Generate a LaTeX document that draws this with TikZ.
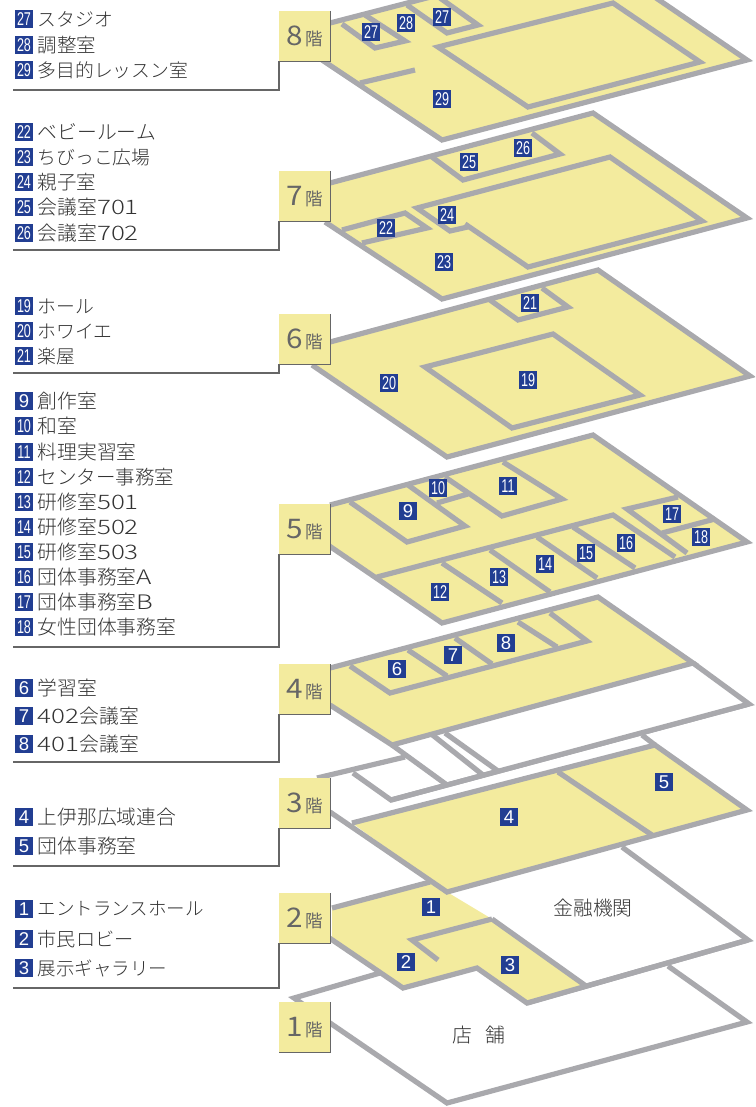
\documentclass[tikz,border=0pt]{standalone}
\usepackage{fontspec}
\usepackage{graphicx}
\setmainfont{Liberation Sans}
\newfontfamily\jpf[UprightFont={* Light}]{Noto Sans CJK JP}
\newfontfamily\jpr{Noto Sans CJK JP}
\newfontfamily\latf{Liberation Sans}
\definecolor{wallc}{HTML}{A9A9AD}
\definecolor{yel}{HTML}{F3EB9E}
\definecolor{navy}{HTML}{223E92}
\definecolor{lead}{HTML}{666666}
\definecolor{txt}{HTML}{333333}
\newcommand{\bn}[1]{\fontsize{18.5}{18.5}\selectfont\latf\ifnum#1>9 \scalebox{0.68}[1]{#1}\else #1\fi}
\newcommand{\dg}[1]{{\jpf\fontsize{20}{20}\selectfont\scalebox{1.3}[1]{#1}}}
\newcommand{\kz}{\fontsize{19.8}{20}\selectfont}
\newcommand{\fl}[1]{\scalebox{1.1}[1]{\jpr\fontsize{27}{27}\selectfont #1}\hspace{2.5pt}{\jpr\fontsize{17.5}{17.5}\selectfont 階}}
\tikzset{
 wall/.style={draw=wallc,line width=5.2pt,line join=miter,miter limit=10},
 yfloor/.style={wall,fill=yel},
 wfloor/.style={wall,fill=white},
 badge/.style={fill=navy,text=white,minimum width=18pt,minimum height=18pt,inner sep=0pt},
 lab/.style={anchor=west,inner sep=0pt,text=txt,font=\jpf\fontsize{18.8}{19}\selectfont},
 plantext/.style={inner sep=0pt,text=txt,font=\jpf\fontsize{19.8}{20}\selectfont},
 floorbox/.style={anchor=north west,fill=yel,minimum width=51pt,minimum height=50pt,inner sep=0pt,text=lead},
 leader/.style={draw=lead,line width=1.6pt,line join=miter},
}
\newcommand{\leg}[4]{\node[badge] (l#1) at (24,#2) {\bn{#3}}; \node[lab] (t#1) at (37.5,#2) {#4};}
\newcommand{\pb}[3]{\node[badge] (p#1) at (#2) {\bn{#3}};}
\begin{document}
\begin{tikzpicture}[x=1pt,y=-1pt]
\useasboundingbox (0,0) rectangle (755,1107);
\clip (0,0) rectangle (755,1107);
% 1F
\filldraw[wfloor] (380,973) -- (294,998) -- (330,1023) -- (447,1103) -- (747,1022) -- (668,966);
% 2F
\fill[white] (447,892) -- (622,847) -- (748,940) -- (587,983) -- cycle;
\draw[wall] (622,847) -- (748,940) -- (527,1003);
\fill[yel] (332,908) -- (430,882) -- (447,892) -- (492,919) -- (586,985) -- (527,1003) -- (477,968) -- (403,988) -- (332,938) -- cycle;
\draw[wall] (332,908) -- (430,882);
\draw[wall] (492,919) -- (586,986);
\draw[wall] (748,940) -- (527,1003) -- (477,968) -- (403,988) -- (325,935);
\draw[wall] (438,960) -- (412,940) -- (492,919);
% 3F
\draw[wfloor] (317,778) -- (405,757);
\draw[wall] (353,773) -- (391,800) -- (749,704);
\fill[yel] (352,823) -- (655,745) -- (747,810) -- (447,892) -- cycle;
\draw[wall] (330,812) -- (447,892) -- (747,810) -- (655,745) -- (352,823);
\draw[wall] (642,735) -- (655,745);
\draw[wall] (558,772) -- (652,835);
% 4F
\fill[white] (693,663) -- (749,704) -- (498,771) -- (445,733) -- cycle;
\draw[wall] (693,663) -- (749,704) -- (391,800);
\draw[wall] (445,733) -- (498,771);
\draw[wall] (430,733) -- (483,775);
\draw[wall] (392,745) -- (447,785);
\filldraw[yfloor] (330,668) -- (598,597) -- (693,663) -- (392,745) -- (330,705);
\draw[wall] (350,666) -- (390,693) -- (587,641) -- (550,613);
\draw[wall] (408,650) -- (447,676);
\draw[wall] (455,638) -- (492,664);
\draw[wall] (518,622) -- (557,647);
% 5F
\filldraw[yfloor] (330,505) -- (593,435) -- (747,542) -- (442,623) -- (325,543);
\draw[wall] (350,502) -- (407,542) -- (465,526) -- (408,485);
\draw[wall] (437,503) -- (468,494);
\draw[wall] (445,477) -- (502,516) -- (562,499) -- (503,462);
\draw[wall] (377,577) -- (613,515) -- (675,557);
\draw[wall] (442,563) -- (502,603);
\draw[wall] (490,550) -- (550,592);
\draw[wall] (537,537) -- (597,578);
\draw[wall] (573,527) -- (635,568);
\draw[wall] (678,497) -- (627,509) -- (687,553);
\draw[wall] (662,533) -- (715,519);
% 6F
\filldraw[yfloor] (330,342) -- (598,270) -- (750,376) -- (447,457) -- (312,365);
\draw[wall] (425,367) -- (553,334) -- (640,395) -- (512,428) -- cycle;
\draw[wall] (490,300) -- (518,320) -- (568,307) -- (542,288);
% 7F
\filldraw[yfloor] (330,183) -- (593,113) -- (747,218) -- (442,299) -- (325,222);
\draw[wall] (470,226.5) -- (450,231) -- (417,208) -- (610,157) -- (702,221) -- (528,267) -- (465,224);
\draw[wall] (432,157) -- (463,180) -- (560,154) -- (532,133);
\draw[wall] (342,230) -- (405,213) -- (427,228) -- (362,243);
% 8F
\filldraw[yfloor] (330,23) -- (593,-45) -- (747,60) -- (442,140) -- (322,60);
\draw[wall] (438,47) -- (613,3) -- (700,62) -- (528,107) -- cycle;
\draw[wall] (342,24) -- (375,48) -- (405,41) -- (365,15);
\draw[wall] (407,5) -- (447,33) -- (478,25) -- (440,-2);
\draw[wall] (360,83) -- (415,70);
% floor labels
\node[floorbox] (f8) at (279,11) {\fl{8}};
\node[floorbox] (f7) at (279,171) {\fl{7}};
\node[floorbox] (f6) at (279,314) {\fl{6}};
\node[floorbox] (f5) at (279,504) {\fl{5}};
\node[floorbox] (f4) at (279,664) {\fl{4}};
\node[floorbox] (f3) at (279,778) {\fl{3}};
\node[floorbox] (f2) at (279,893) {\fl{2}};
\node[floorbox] (f1) at (279,1002) {\fl{1}};
\foreach \n in {8,7,6,5,4,3,2,1}{\draw[draw=lead,line width=1pt] (f\n.north east) -- (f\n.south east) -- (f\n.south west);}
\coordinate (e8) at (13,90);
\coordinate (e7) at (13,250);
\coordinate (e6) at (13,373);
\coordinate (e5) at (13,647);
\coordinate (e4) at (13,762);
\coordinate (e3) at (13,866);
\coordinate (e2) at (13,988);
\foreach \n in {8,7,6,5,4,3,2}{\draw[leader] (f\n.south west) |- (e\n);}
% plan badges
\pb{27a}{371,32}{27}\pb{28}{406,23}{28}\pb{27b}{442,17}{27}\pb{29}{442,99}{29}
\pb{26}{523,148}{26}\pb{25}{469,162}{25}\pb{24}{447,215}{24}\pb{22}{386,228}{22}\pb{23}{444,262}{23}
\pb{21}{530,303}{21}\pb{20}{389,383}{20}\pb{19}{528,380}{19}
\pb{10}{438,488}{10}\pb{11}{508,486}{11}\pb{9}{408,511}{9}\pb{17}{672,514}{17}\pb{18}{701,537}{18}
\pb{16}{626,543}{16}\pb{15}{586,553}{15}\pb{14}{545,564}{14}\pb{13}{499,577}{13}\pb{12}{440,592}{12}
\pb{6}{397,669}{6}\pb{7}{453,655}{7}\pb{8}{506,643}{8}\pb{5}{664,782}{5}\pb{4}{509,817}{4}
\pb{1}{431,907}{1}\pb{2}{406,962}{2}\pb{3}{510,965}{3}
\node[plantext] (bank) at (593,908) {金融機関};
\node[plantext] (shop) at (479,1035) {店\hspace{13pt}舗};
% legend
\leg{27}{19}{27}{スタジオ}
\leg{28}{45}{28}{\fontsize{19.5}{20}\selectfont 調整室}
\leg{29}{70}{29}{多目的レッスン室}
\leg{22}{132}{22}{\kz ベビールーム}
\leg{23}{157}{23}{ちびっこ広場}
\leg{24}{182}{24}{\fontsize{19.5}{20}\selectfont 親子室}
\leg{25}{207}{25}{\kz 会議室\dg{701}}
\leg{26}{233}{26}{\kz 会議室\dg{702}}
\leg{19}{306}{19}{ホール}
\leg{20}{331}{20}{ホワイエ}
\leg{21}{356}{21}{楽屋}
\leg{9}{401}{9}{\kz 創作室}
\leg{10}{426}{10}{\kz 和室}
\leg{11}{452}{11}{\kz 料理実習室}
\leg{12}{477}{12}{\fontsize{19.5}{20}\selectfont センター事務室}
\leg{13}{502}{13}{\kz 研修室\dg{501}}
\leg{14}{527}{14}{\kz 研修室\dg{502}}
\leg{15}{552}{15}{\kz 研修室\dg{503}}
\leg{16}{577}{16}{\kz 団体事務室\dg{A}}
\leg{17}{602}{17}{\kz 団体事務室\dg{B}}
\leg{18}{627}{18}{\kz 女性団体事務室}
\leg{6}{688}{6}{\kz 学習室}
\leg{7}{716}{7}{\dg{402}\kz 会議室}
\leg{8}{744}{8}{\dg{401}\kz 会議室}
\leg{4}{817}{4}{\kz 上伊那広域連合}
\leg{5}{846}{5}{\kz 団体事務室}
\leg{1}{909}{1}{\fontsize{18.5}{19}\selectfont エントランスホール}
\leg{2}{939}{2}{\fontsize{19.2}{20}\selectfont 市民ロビー}
\leg{3}{968}{3}{\fontsize{18.5}{19}\selectfont 展示ギャラリー}
\end{tikzpicture}
\end{document}
